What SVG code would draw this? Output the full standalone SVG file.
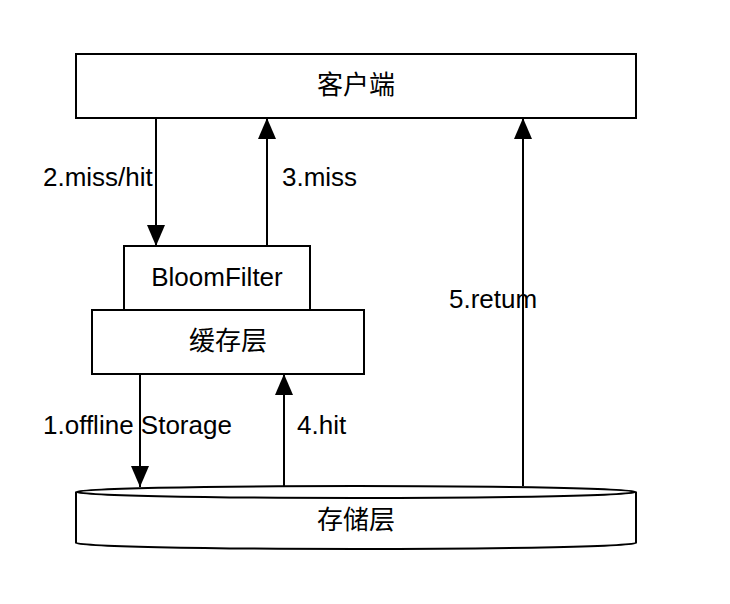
<svg xmlns="http://www.w3.org/2000/svg" width="730" height="604" viewBox="0 0 730 604">
<style>
.box{fill:#fff;stroke:#000;stroke-width:2}
.t{font-family:"Liberation Sans","Noto Sans CJK SC",sans-serif;font-size:26px;fill:#000}
.c{text-anchor:middle;dominant-baseline:central}
.ln{stroke:#000;stroke-width:2;fill:none}
</style>
<defs>
<marker id="ah" markerUnits="userSpaceOnUse" markerWidth="22" markerHeight="20" refX="21" refY="9" orient="auto" viewBox="0 0 22 18">
<path d="M0,0 L21,9 L0,18 z" fill="#000"/>
</marker>
</defs>
<rect width="730" height="604" fill="#fff"/>
<g id="client">
<rect class="box" x="76" y="54" width="560" height="64"/>
<text class="t c" x="356" y="85">客户端</text>
</g>
<g id="bloomfilter">
<rect class="box" x="124" y="246" width="186" height="64"/>
<text class="t c" x="217" y="277">BloomFilter</text>
</g>
<g id="cache">
<rect class="box" x="92" y="310" width="272" height="64"/>
<text class="t c" x="228" y="341">缓存层</text>
</g>
<g id="storage">
<path class="box" d="M76,492 L76,543 A280,6 0 0 0 636,543 L636,492 A280,6 0 0 0 76,492 Z"/>
<path class="ln" d="M76,492 A280,6 0 0 0 636,492"/>
<text class="t c" x="356" y="520">存储层</text>
</g>
<g id="connectors">
<line class="ln" x1="156" y1="118" x2="156" y2="246" marker-end="url(#ah)"/>
<line class="ln" x1="267" y1="246" x2="267" y2="118" marker-end="url(#ah)"/>
<line class="ln" x1="140" y1="374" x2="140" y2="487" marker-end="url(#ah)"/>
<line class="ln" x1="284" y1="486" x2="284" y2="374" marker-end="url(#ah)"/>
<line class="ln" x1="523" y1="486" x2="523" y2="118" marker-end="url(#ah)"/>
<text class="t" x="43" y="186">2.miss/hit</text>
<text class="t" x="282" y="186">3.miss</text>
<text class="t" x="43" y="434">1.offline Storage</text>
<text class="t" x="297" y="434">4.hit</text>
<text class="t" x="449" y="308">5.retum</text>
</g>
</svg>
